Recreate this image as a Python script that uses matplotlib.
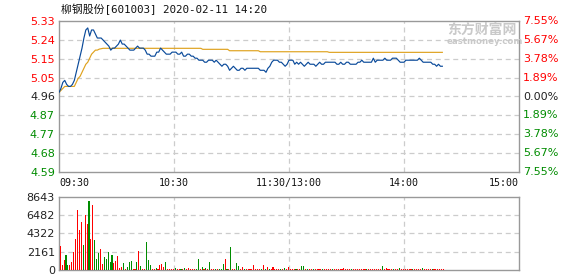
import matplotlib
matplotlib.use("Agg")
import matplotlib.pyplot as plt
import numpy as np

# ---------------- data ----------------
title = "柳钢股份[601003] 2020-02-11 14:20"
pre_close = 4.96
price_ticks = [5.33, 5.24, 5.15, 5.05, 4.96, 4.87, 4.77, 4.68, 4.59]
pct_labels = ["7.55%", "5.67%", "3.78%", "1.89%", "0.00%", "1.89%", "3.78%", "5.67%", "7.55%"]
time_labels = ["09:30", "10:30", "11:30/13:00", "14:00", "15:00"]
time_pos = [0, 60, 120, 180, 240]
vol_ticks = [0, 2161, 4322, 6482, 8643]

price = [
    4.98, 5.00, 5.03, 5.04, 5.02, 5.01, 5.01, 5.02, 5.04, 5.08,
    5.12, 5.16, 5.20, 5.25, 5.29, 5.30, 5.26, 5.29, 5.29, 5.27,
    5.25, 5.25, 5.25, 5.24, 5.23, 5.22, 5.21, 5.19, 5.20, 5.20,
    5.21, 5.22, 5.24, 5.22, 5.22, 5.21, 5.20, 5.19, 5.19, 5.19,
    5.20, 5.21, 5.20, 5.20, 5.20, 5.19, 5.17, 5.17, 5.16, 5.16,
    5.16, 5.18, 5.18, 5.20, 5.19, 5.18, 5.17, 5.17, 5.17, 5.18,
    5.18, 5.18, 5.17, 5.17, 5.18, 5.16, 5.16, 5.17, 5.17, 5.16,
    5.16, 5.15, 5.15, 5.14, 5.14, 5.14, 5.13, 5.13, 5.14, 5.14,
    5.14, 5.13, 5.14, 5.13, 5.12, 5.11, 5.12, 5.12, 5.11, 5.09,
    5.10, 5.11, 5.10, 5.09, 5.09, 5.10, 5.10, 5.09, 5.10, 5.10,
    5.10, 5.10, 5.10, 5.10, 5.10, 5.09, 5.09, 5.09, 5.08, 5.10,
    5.11, 5.13, 5.14, 5.14, 5.14, 5.13, 5.13, 5.12, 5.11, 5.12,
    5.14, 5.14, 5.14, 5.12, 5.13, 5.12, 5.13, 5.12, 5.11, 5.12,
    5.13, 5.12, 5.12, 5.12, 5.11, 5.12, 5.13, 5.12, 5.12, 5.13,
    5.13, 5.13, 5.13, 5.13, 5.13, 5.12, 5.12, 5.13, 5.12, 5.12,
    5.13, 5.13, 5.12, 5.12, 5.12, 5.12, 5.13, 5.13, 5.14, 5.13,
    5.13, 5.13, 5.13, 5.13, 5.15, 5.13, 5.14, 5.14, 5.14, 5.14,
    5.15, 5.14, 5.14, 5.14, 5.15, 5.15, 5.15, 5.14, 5.13, 5.13,
    5.13, 5.14, 5.14, 5.14, 5.14, 5.14, 5.14, 5.14, 5.15, 5.14,
    5.13, 5.13, 5.13, 5.13, 5.13, 5.12, 5.12, 5.11, 5.12, 5.11,
    5.11,
]

avg_price = ([4.98, 4.99, 5.00, 5.01, 5.01, 5.01, 5.01, 5.01, 5.01, 5.03,
              5.05, 5.06, 5.08, 5.10, 5.12, 5.13, 5.15, 5.17, 5.18, 5.19,
              5.19, 5.195, 5.197]
             + [5.199] * 52 + [5.194] * 14 + [5.187] * 16
             + [5.182] * 36 + [5.179] * 60)

volume = [
    2880, 600, 1200, 1800, 600, 600, 960, 2160, 3720, 7080,
    4680, 5640, 3000, 6480, 5400, 8200, 3720, 7680, 3600, 1320,
    1960, 2520, 720, 1480, 1360, 2160, 960, 1800, 880, 1120,
    1680, 240, 400, 800, 120, 400, 920, 1080, 120, 120,
    1000, 2200, 520, 120, 120, 3280, 1200, 600, 120, 120,
    280, 120, 600, 720, 320, 960, 120, 120, 120, 120,
    280, 120, 120, 120, 120, 280, 120, 240, 120, 120,
    120, 120, 1360, 120, 360, 120, 280, 120, 960, 120,
    120, 120, 120, 120, 120, 720, 1360, 120, 120, 2760,
    120, 120, 840, 520, 120, 360, 120, 120, 120, 120,
    120, 600, 120, 120, 120, 120, 600, 120, 360, 120,
    120, 360, 120, 120, 120, 120, 120, 240, 120, 360,
    120, 120, 120, 120, 120, 120, 480, 480, 120, 120,
    120, 120, 120, 120, 120, 120, 120, 120, 120, 120,
    120, 120, 120, 120, 120, 120, 120, 120, 240, 120,
    120, 120, 120, 120, 120, 120, 120, 120, 120, 120,
    120, 120, 120, 120, 120, 120, 120, 120, 480, 120,
    240, 120, 120, 120, 120, 120, 120, 240, 120, 120,
    120, 120, 120, 120, 120, 120, 120, 120, 120, 240,
    120, 120, 120, 120, 120, 120, 120, 120, 120, 120,
    120,
]

vol_dir = ("rrrggrrrrrrrgrrgrrgggrrgggggrrrrrgrggg"
           "rrgrgrrggg" "rrgrrrrgrr" "rrgrrgrgrr" "rrrggrgrgr" "grrgrgggrg"
           "rgrrggrrgr" "rrrrrrrgrg" "rgrrrrrgrg" "rrrrrgrrgg"
           "rgrrgrrrrg" "rrrrgrrrrr" "rrrrgrrrrr" "rrgrrrrrrr"
           "grrrrrgrrg" "rrrrrrgrrr" "rgrrrrgrrr" "rrr")

# ---------------- style ----------------
RED = "#ff0000"
GREEN = "#008c00"
DARK = "#222222"
BLUE = "#0a4a9a"
ORANGE = "#dfa21e"
SPINE = "#999999"
GRID = "#cccccc"

W, H = 578, 276
fig = plt.figure(figsize=(W / 100, H / 100), dpi=100)
fig.patch.set_facecolor("white")

def fx(px):
    return px / W

def fy(py):
    return 1 - py / H

L, R = 59, 519
ax = fig.add_axes([fx(L), fy(172), fx(R - L), 151 / H])
axv = fig.add_axes([fx(L), fy(270), fx(R - L), 73 / H])

span = pre_close * 0.0755
for a in (ax, axv):
    a.set_xlim(0, 240)
    for s in a.spines.values():
        s.set_color(SPINE)
        s.set_linewidth(1.0)
    a.tick_params(length=0)
    a.set_xticks([])
    for xv in (60, 120, 180):
        a.axvline(xv, color=GRID, lw=0.9, ls=(0, (4, 3)), zorder=0)

ax.set_ylim(pre_close - span, pre_close + span)
grid_levels = [pre_close + span * k / 4 for k in range(-3, 4)]
for yv in grid_levels:
    ax.axhline(yv, color=GRID, lw=0.9, ls=(0, (4, 3)), zorder=0)

x = np.arange(len(price))
ax.plot(x, avg_price, color=ORANGE, lw=0.85, zorder=3)
ax.plot(x, price, color=BLUE, lw=0.85, zorder=4)

# left price labels
tick_vals = [pre_close + span * k / 4 for k in range(4, -5, -1)]
ax.set_yticks(tick_vals)
ax.set_yticklabels([f"{v:.2f}" for v in price_ticks], fontsize=8)
ax.tick_params(axis="y", pad=3)
lab_colors = [RED] * 4 + [DARK] + [GREEN] * 4
for lbl, c in zip(ax.get_yticklabels(), lab_colors):
    lbl.set_color(c)

# right percentage labels
for v, t, c in zip(tick_vals, pct_labels, lab_colors):
    ax.text(1.0 + 4 / (R - L), v, t, transform=ax.get_yaxis_transform(),
            ha="left", va="center", fontsize=8, color=c)

# time labels
for p, t in zip(time_pos, time_labels):
    ha = "left" if p == 0 else ("right" if p == 240 else "center")
    ax.text(p, -0.04, t, transform=ax.get_xaxis_transform(), ha=ha, va="top",
            fontsize=7.2, family="DejaVu Sans Mono", color="#111111")

# volume
axv.set_ylim(0, vol_ticks[-1])
for yv in vol_ticks[1:-1]:
    axv.axhline(yv, color=GRID, lw=0.9, ls=(0, (4, 3)), zorder=0)
vx = np.arange(len(volume)) + 0.65
vcol = [RED if d == "r" else GREEN for d in vol_dir]
axv.bar(vx, volume, width=0.55, color=vcol, linewidth=0, zorder=3,
        antialiased=False)
axv.set_yticks(vol_ticks)
axv.set_yticklabels([str(v) for v in vol_ticks], fontsize=8, color=DARK)
axv.tick_params(axis="y", pad=3)

# title
fig.text(fx(61), fy(9), title, ha="left", va="center", fontsize=7.8,
         family=["DejaVu Sans Mono", "Noto Sans CJK SC"], color="#111111")

# watermark
fig.text(fx(447), fy(30), "东方财富网", ha="left", va="center", fontsize=10,
         family=["Noto Sans CJK SC", "DejaVu Sans"], color="#c9c9c9",
         fontweight="bold", zorder=1)
fig.text(fx(447), fy(42), "eastmoney.com", ha="left", va="center", fontsize=6.2,
         family="DejaVu Sans", color="#c9c9c9", fontweight="bold", zorder=1)

fig.savefig("out.png", dpi=100)
